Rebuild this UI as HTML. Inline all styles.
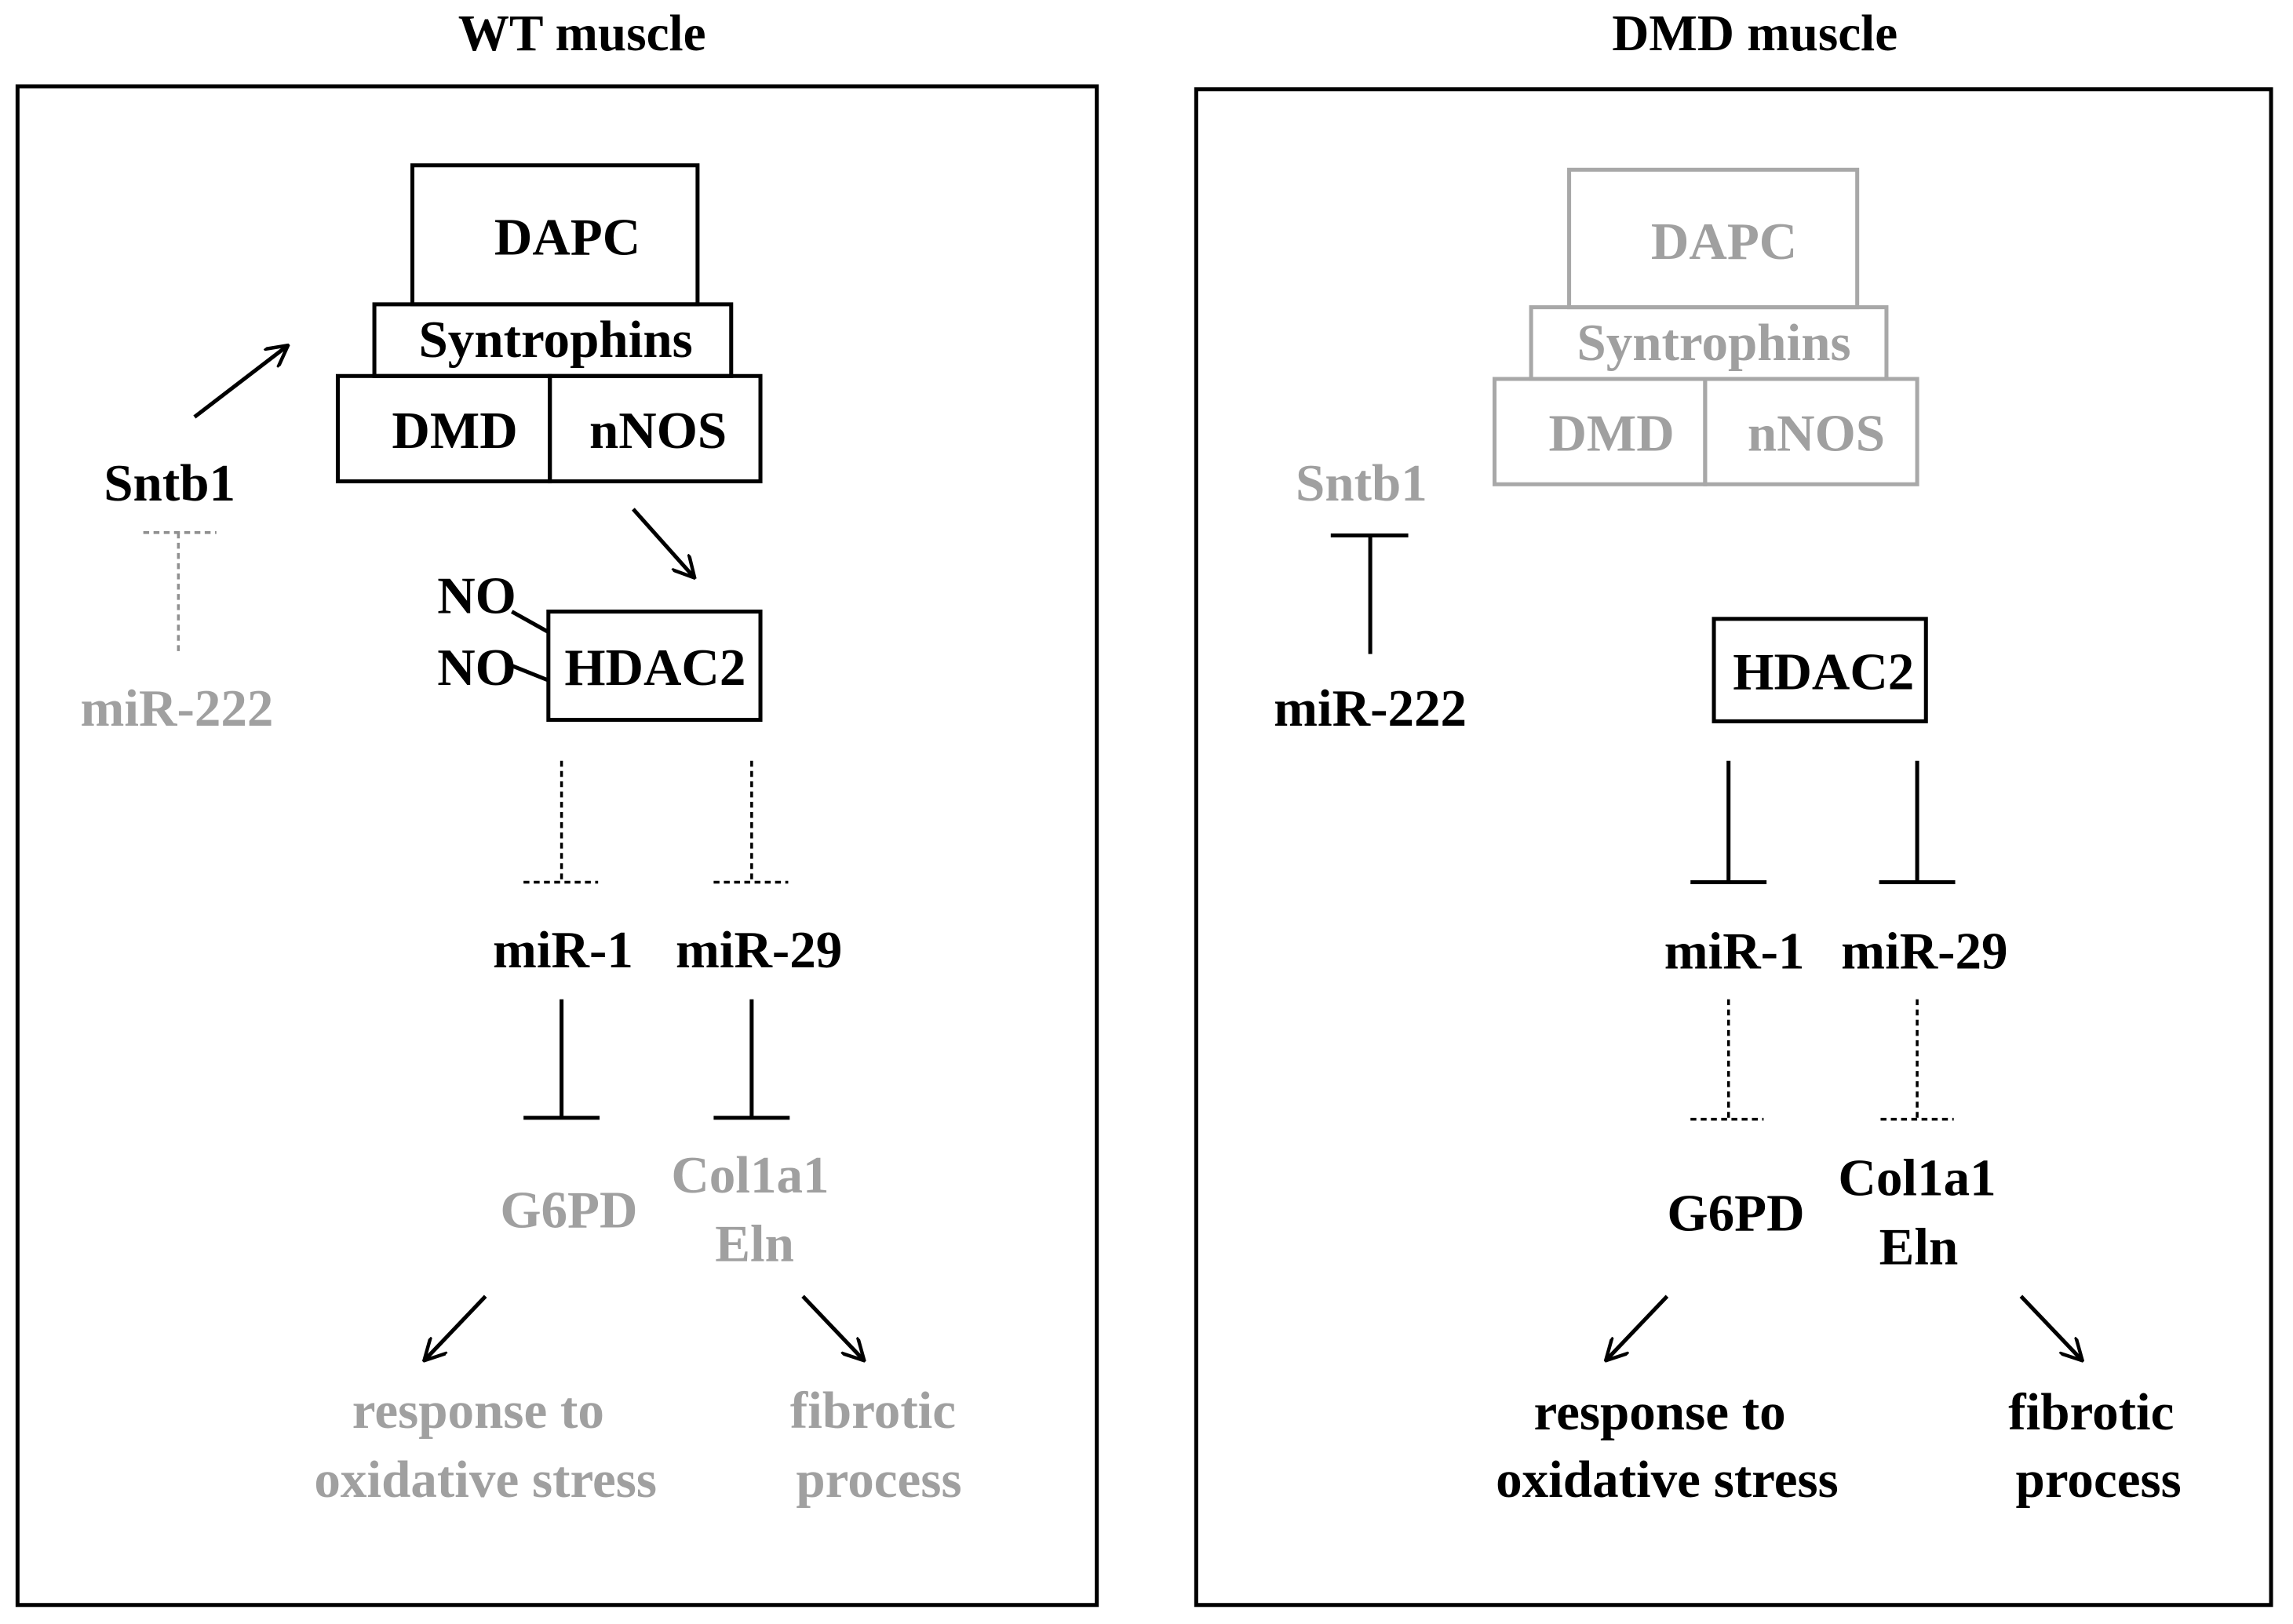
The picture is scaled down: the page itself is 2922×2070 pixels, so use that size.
<!DOCTYPE html>
<html><head><style>html,body{margin:0;padding:0;background:#fff}svg{display:block}</style></head>
<body>
<svg width="2922" height="2070" viewBox="0 0 1568 1110" preserveAspectRatio="none" xmlns="http://www.w3.org/2000/svg">
<defs>
<marker id="ah" viewBox="0 0 16 16" refX="15" refY="8" markerWidth="16" markerHeight="16" markerUnits="userSpaceOnUse" orient="auto"><path d="M0,0 L15,8 L0,16" fill="none" stroke="#000" stroke-width="2.4"/></marker>
</defs>
<style>
text{font-family:"Liberation Serif",serif;font-weight:bold;font-size:36px;text-anchor:middle;dominant-baseline:central}
.g{fill:#a0a0a0}.b{fill:#000}
.k{stroke:#000;stroke-width:2.7;fill:none}
.gs{stroke:#a8a8a8;stroke-width:2.7;fill:none}
.d{stroke:#000;stroke-width:1.9;stroke-dasharray:4,3;fill:none}
.dg{stroke:#909090;stroke-width:1.9;stroke-dasharray:4,3;fill:none}
</style>
<text x="398" y="23" style="font-size:35px">WT muscle</text>
<text x="1200" y="23" style="font-size:35px">DMD muscle</text>
<rect x="12" y="59" width="738" height="1038" class="k"/>
<rect x="818" y="61" width="735" height="1036" class="k"/>

<!-- Left -->
<rect x="282" y="113" width="195" height="95" class="k"/>
<rect x="256" y="208" width="244" height="49" class="k"/>
<rect x="231" y="257" width="145" height="72" class="k"/>
<rect x="376" y="257" width="144" height="72" class="k"/>
<text x="388" y="162">DAPC</text>
<text x="380" y="232">Syntrophins</text>
<text x="311" y="294">DMD</text>
<text x="450" y="294">nNOS</text>
<line x1="133" y1="285" x2="197" y2="236" class="k" marker-end="url(#ah)"/>
<text x="116" y="330">Sntb1</text>
<line x1="98" y1="364" x2="148" y2="364" class="dg"/>
<line x1="122" y1="364" x2="122" y2="446" class="dg"/>
<text x="121" y="484" class="g">miR-222</text>
<line x1="433" y1="348" x2="475" y2="395" class="k" marker-end="url(#ah)"/>
<rect x="375" y="418" width="145" height="74" class="k"/>
<text x="448" y="456">HDAC2</text>
<text x="326" y="407">NO</text>
<text x="326" y="456">NO</text>
<line x1="350" y1="418" x2="375" y2="432" class="k" stroke-width="2"/>
<line x1="350" y1="455" x2="375" y2="465" class="k" stroke-width="2"/>
<line x1="384" y1="520" x2="384" y2="603" class="d"/>
<line x1="358" y1="603" x2="409" y2="603" class="d"/>
<line x1="514" y1="520" x2="514" y2="603" class="d"/>
<line x1="488" y1="603" x2="539" y2="603" class="d"/>
<text x="385" y="649">miR-1</text>
<text x="519" y="649">miR-29</text>
<line x1="384" y1="683" x2="384" y2="764" class="k"/>
<line x1="358" y1="764" x2="410" y2="764" class="k"/>
<line x1="514" y1="683" x2="514" y2="764" class="k"/>
<line x1="488" y1="764" x2="540" y2="764" class="k"/>
<text x="389" y="827" class="g">G6PD</text>
<text x="513" y="803" class="g">Col1a1</text>
<text x="516" y="850" class="g">Eln</text>
<line x1="332" y1="886" x2="290" y2="930" class="k" marker-end="url(#ah)"/>
<line x1="549" y1="886" x2="591" y2="930" class="k" marker-end="url(#ah)"/>
<text x="327" y="964" class="g">response to</text>
<text x="332" y="1011" class="g">oxidative stress</text>
<text x="597" y="964" class="g">fibrotic</text>
<text x="601" y="1011" class="g">process</text>

<!-- Right -->
<rect x="1073" y="116" width="197" height="94" class="gs"/>
<rect x="1047" y="210" width="243" height="49" class="gs"/>
<rect x="1022" y="259" width="144" height="72" class="gs"/>
<rect x="1166" y="259" width="145" height="72" class="gs"/>
<text x="1179" y="165" class="g">DAPC</text>
<text x="1172" y="234" class="g">Syntrophins</text>
<text x="1102" y="296" class="g">DMD</text>
<text x="1242" y="296" class="g">nNOS</text>
<text x="931" y="330" class="g">Sntb1</text>
<line x1="910" y1="366" x2="963" y2="366" class="k"/>
<line x1="937" y1="366" x2="937" y2="447" class="k"/>
<text x="937" y="484">miR-222</text>
<rect x="1172" y="423" width="145" height="70" class="k"/>
<text x="1247" y="459">HDAC2</text>
<line x1="1182" y1="520" x2="1182" y2="603" class="k"/>
<line x1="1156" y1="603" x2="1208" y2="603" class="k"/>
<line x1="1311" y1="520" x2="1311" y2="603" class="k"/>
<line x1="1285" y1="603" x2="1337" y2="603" class="k"/>
<text x="1186" y="650">miR-1</text>
<text x="1316" y="650">miR-29</text>
<line x1="1182" y1="683" x2="1182" y2="765" class="d"/>
<line x1="1156" y1="765" x2="1206" y2="765" class="d"/>
<line x1="1311" y1="683" x2="1311" y2="765" class="d"/>
<line x1="1286" y1="765" x2="1336" y2="765" class="d"/>
<text x="1187" y="829">G6PD</text>
<text x="1311" y="805">Col1a1</text>
<text x="1312" y="852">Eln</text>
<line x1="1140" y1="886" x2="1098" y2="930" class="k" marker-end="url(#ah)"/>
<line x1="1382" y1="886" x2="1424" y2="930" class="k" marker-end="url(#ah)"/>
<text x="1135" y="965">response to</text>
<text x="1140" y="1011">oxidative stress</text>
<text x="1430" y="965">fibrotic</text>
<text x="1435" y="1011">process</text>
</svg>
</body></html>
